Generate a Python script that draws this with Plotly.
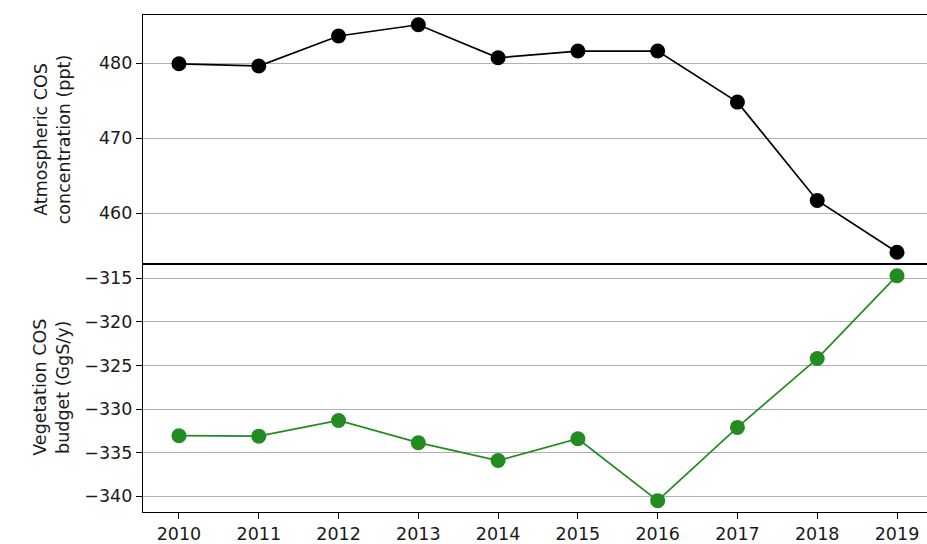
import plotly.graph_objects as go
from plotly.subplots import make_subplots

years = [2010, 2011, 2012, 2013, 2014, 2015, 2016, 2017, 2018, 2019]
cos_ppt = [479.9, 479.6, 483.6, 485.1, 480.7, 481.6, 481.6, 474.8, 461.7, 454.8]
veg_budget = [-333.05, -333.1, -331.3, -333.85, -335.9, -333.4, -340.5, -332.1, -324.2, -314.7]

top_ticks = [460, 470, 480]
bottom_ticks = [-340, -335, -330, -325, -320, -315]
bottom_labels = ['\u2212' + str(abs(v)) for v in bottom_ticks]

font = dict(family='DejaVu Sans', size=17.5, color='#1a1a1a')

fig = make_subplots(rows=2, cols=1, shared_xaxes=True, vertical_spacing=0)

fig.add_trace(go.Scatter(
    x=years, y=cos_ppt, mode='lines+markers',
    line=dict(color='black', width=1.7),
    marker=dict(color='black', size=15),
    showlegend=False), row=1, col=1)

fig.add_trace(go.Scatter(
    x=years, y=veg_budget, mode='lines+markers',
    line=dict(color='#228B22', width=1.7),
    marker=dict(color='#228B22', size=15),
    showlegend=False, cliponaxis=False), row=2, col=1)

axis_common = dict(showline=True, linecolor='black', linewidth=1.3,
                   ticks='outside', ticklen=6, tickwidth=1.3, tickcolor='black',
                   tickfont=font, zeroline=False)

fig.update_xaxes(range=[2009.549, 2019.376], showgrid=False, **axis_common)
fig.update_xaxes(mirror=True, ticks='', showticklabels=False, row=1, col=1)
fig.update_xaxes(mirror=True, tickvals=years, row=2, col=1)

fig.update_yaxes(showgrid=True, gridcolor='#b0b0b0', gridwidth=1.2, **axis_common)
fig.update_yaxes(range=[453.3, 486.4], tickvals=top_ticks, row=1, col=1)
fig.update_yaxes(range=[-341.8, -313.3], tickvals=bottom_ticks,
                 ticktext=bottom_labels, row=2, col=1)

fig.update_layout(
    width=927, height=544,
    margin=dict(l=143, r=0, t=15, b=32),
    plot_bgcolor='white', paper_bgcolor='white',
    font=font,
    annotations=[
        dict(text='Atmospheric COS<br>concentration (ppt)', xref='paper', yref='paper',
             x=0, y=0.75, xshift=-91, xanchor='center', yanchor='middle',
             textangle=-90, showarrow=False, font=font),
        dict(text='Vegetation COS<br>budget (GgS/y)', xref='paper', yref='paper',
             x=0, y=0.25, xshift=-91, xanchor='center', yanchor='middle',
             textangle=-90, showarrow=False, font=font),
    ],
)

# page margin off so the figure sits at the window corner
fig.write_html("out.html", config={'displayModeBar': False},
               post_script="document.body.style.margin='0';document.body.style.overflow='hidden';")
